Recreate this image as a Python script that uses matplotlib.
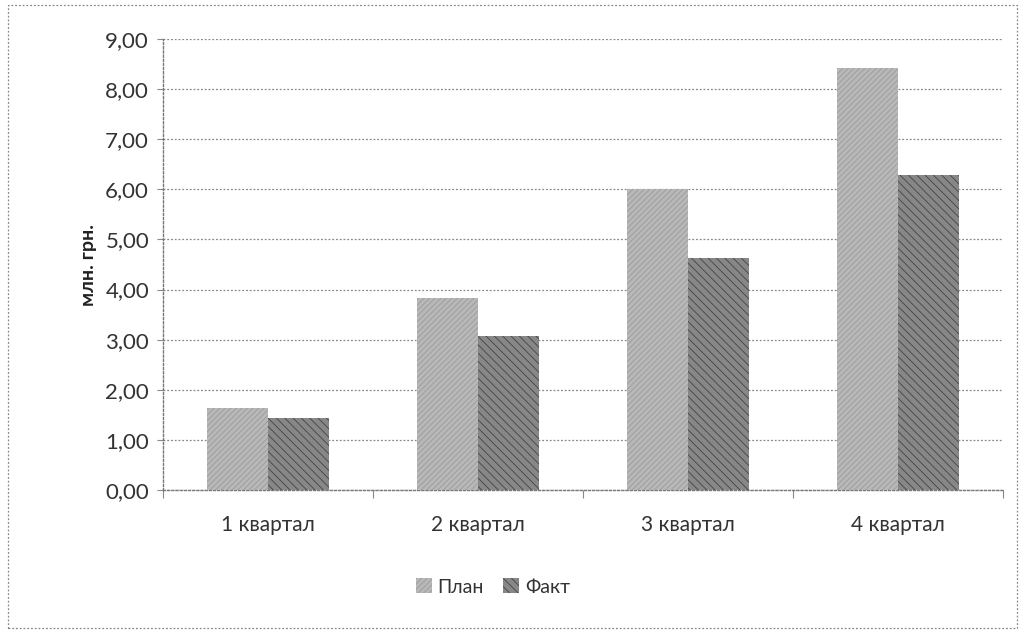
import matplotlib
matplotlib.use("Agg")
import matplotlib.pyplot as plt
import numpy as np
from matplotlib.patches import Rectangle

categories = ["1 квартал", "2 квартал", "3 квартал", "4 квартал"]
plan = [1.64, 3.83, 6.00, 8.42]
fact = [1.44, 3.07, 4.63, 6.29]
yticks = [0, 1, 2, 3, 4, 5, 6, 7, 8, 9]
ytick_labels = ["0,00", "1,00", "2,00", "3,00", "4,00", "5,00", "6,00", "7,00", "8,00", "9,00"]

plt.rcParams['font.family'] = ['Lato', 'DejaVu Sans']
plt.rcParams['hatch.color'] = '#5a5a5a'
plt.rcParams['hatch.linewidth'] = 0.6

fig = plt.figure(figsize=(10.25, 6.32), dpi=100)
ax = fig.add_axes([163/1025, 1-490/632, (1003-163)/1025, (490-39)/632])

x = np.arange(len(categories))
w = 0.29
ax.bar(x - w/2, plan, w, color='#b8b8b8', hatch='//////', edgecolor='#9a9a9a', linewidth=0, zorder=3, label='План')
ax.bar(x + w/2, fact, w, color='#878787', hatch='\\\\\\\\', edgecolor='#444444', linewidth=0, zorder=3, label='Факт')

ax.set_xlim(-0.5, len(categories) - 0.5)
ax.set_ylim(0, 9)
ax.set_yticks(yticks)
ax.set_yticklabels(ytick_labels, fontsize=16, color='#333333')
ax.set_xticks(x)
ax.set_xticklabels(categories, fontsize=15, color='#333333')
ax.tick_params(axis='x', length=0, pad=18)
ax.tick_params(axis='y', length=4, color='#888888', pad=6)
ax.set_xticks(np.arange(-0.5, len(categories), 1.0), minor=True)
ax.tick_params(axis='x', which='minor', length=6, color='#888888', direction='out', width=0.8)

ax.grid(axis='y', linestyle=(0, (1.5, 1.5)), color='#888888', linewidth=0.9, zorder=0)
for s in ['top', 'right']:
    ax.spines[s].set_visible(False)
for s in ['left', 'bottom']:
    ax.spines[s].set_linestyle((0, (1.5, 1.5)))
    ax.spines[s].set_color('#777777')
    ax.spines[s].set_linewidth(1.0)

ax.set_ylabel('млн. грн.', fontsize=14, fontweight='bold', color='#222222', labelpad=6)

leg = fig.legend(*ax.get_legend_handles_labels(), loc='center', bbox_to_anchor=(493/1025, 1-587/632), ncol=2,
                 frameon=False, fontsize=14, handlelength=0.8, handleheight=0.8, handletextpad=0.3,
                 columnspacing=1.0)
for t in leg.get_texts():
    t.set_color('#333333')

border = Rectangle((8/1025, 4/632), 1 - 16/1025, 1 - 9/632, transform=fig.transFigure,
                   fill=False, linestyle=(0, (1.5, 1.5)), edgecolor='#888888', linewidth=0.9)
fig.patches.append(border)

fig.savefig('out.png', dpi=100)
